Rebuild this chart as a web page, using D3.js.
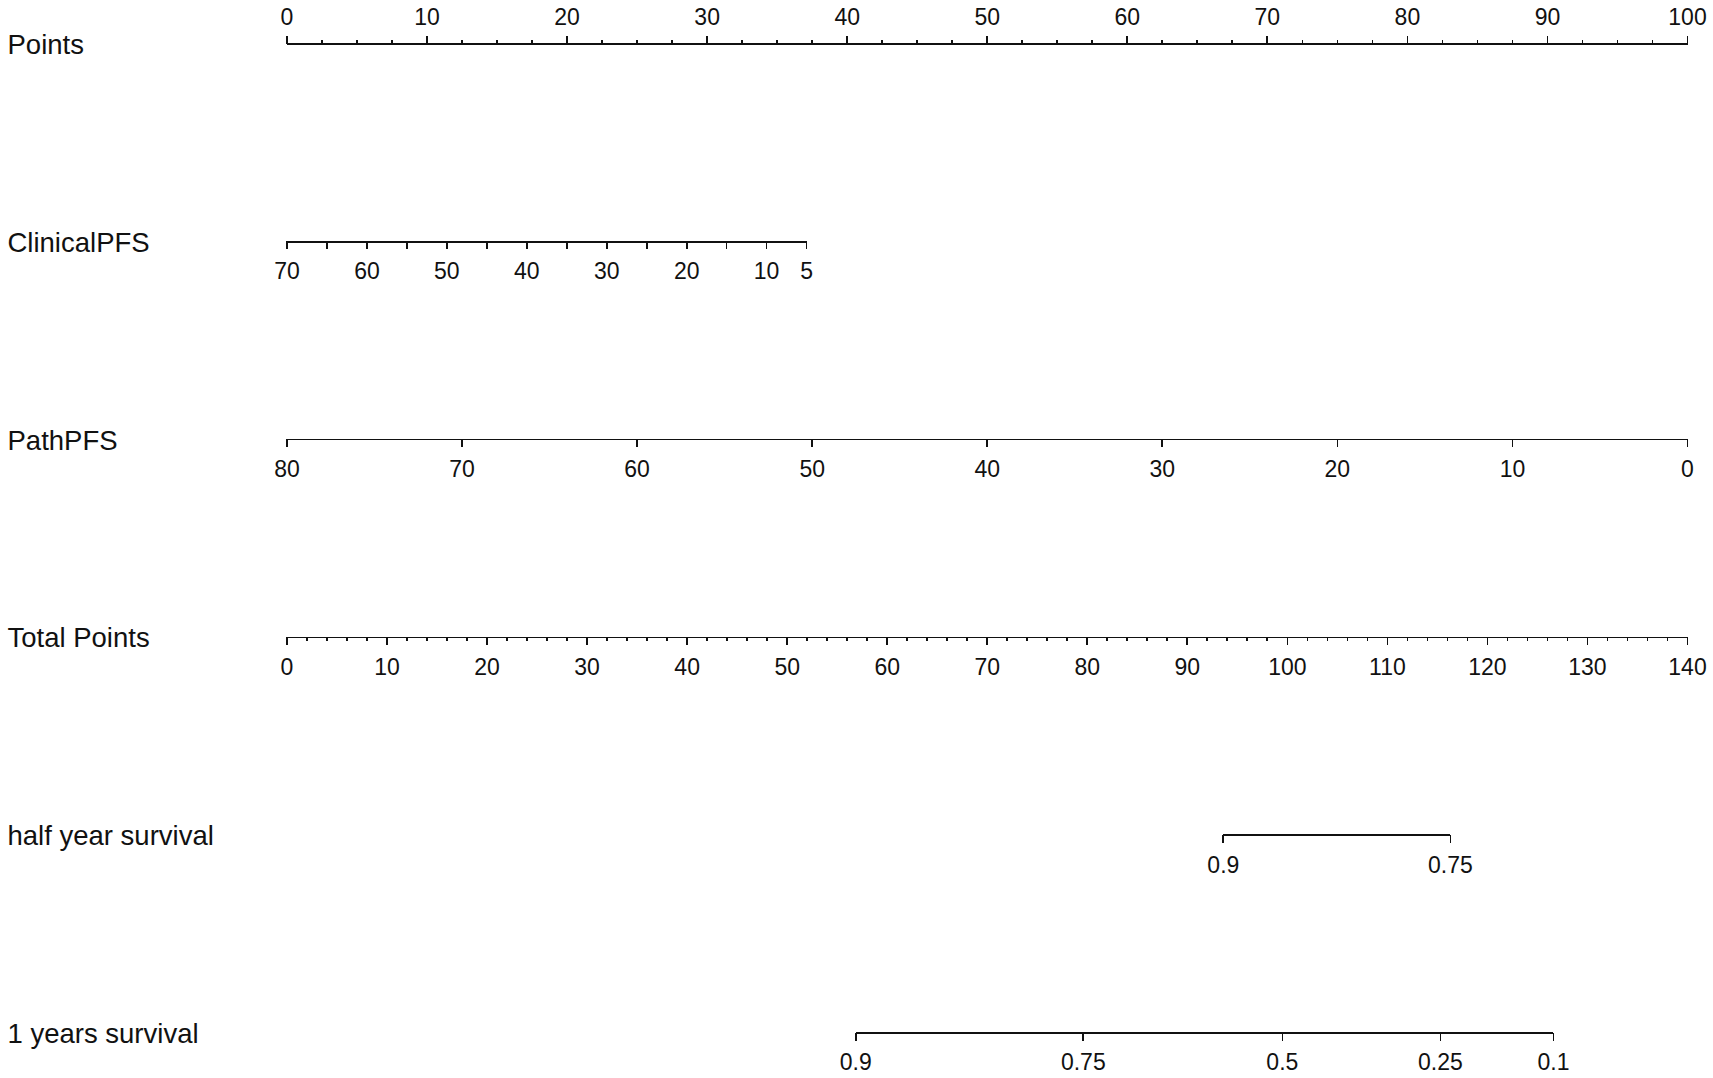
<!DOCTYPE html>
<html>
<head>
<meta charset="utf-8">
<script src="https://cdn.jsdelivr.net/npm/d3@7"></script>
<style>
  html, body { margin: 0; padding: 0; background: #fff; }
  svg { display: block; }
  .axis path, .axis line { stroke: #111; stroke-width: 1.7px; shape-rendering: crispEdges; }
  .axis text { font-family: "Liberation Sans", Arial, sans-serif; font-size: 23px; fill: #111; }
  .rowlabel { font-family: "Liberation Sans", Arial, sans-serif; font-size: 27.5px; fill: #111; }
</style>
</head>
<body>
<svg id="chart" width="1713" height="1078"></svg>
<script>
// ---- data ----
const rowNames = ["Points", "ClinicalPFS", "PathPFS", "Total Points", "half year survival", "1 years survival"];

const pointsDomain = [0, 100];
const pointsMajor = [0, 10, 20, 30, 40, 50, 60, 70, 80, 90, 100];
const pointsMinor = [2.5, 5, 7.5, 12.5, 15, 17.5, 22.5, 25, 27.5, 32.5, 35, 37.5, 42.5, 45, 47.5,
  52.5, 55, 57.5, 62.5, 65, 67.5, 72.5, 75, 77.5, 82.5, 85, 87.5, 92.5, 95, 97.5];

const clinicalValues = [70, 5];          // variable range
const clinicalPoints = [0, 37.1];        // points for those values
const clinicalTicks = [70, 65, 60, 55, 50, 45, 40, 35, 30, 25, 20, 15, 10, 5];
const clinicalLabels = [70, 60, 50, 40, 30, 20, 10, 5];

const pathValues = [80, 0];
const pathPoints = [0, 100];
const pathTicks = [80, 70, 60, 50, 40, 30, 20, 10, 0];

const totalDomain = [0, 140];
const totalMajor = [0, 10, 20, 30, 40, 50, 60, 70, 80, 90, 100, 110, 120, 130, 140];
const totalMinor = [2, 4, 6, 8, 12, 14, 16, 18, 22, 24, 26, 28, 32, 34, 36, 38, 42, 44, 46, 48,
  52, 54, 56, 58, 62, 64, 66, 68, 72, 74, 76, 78, 82, 84, 86, 88, 92, 94, 96, 98,
  102, 104, 106, 108, 112, 114, 116, 118, 122, 124, 126, 128, 132, 134, 136, 138];

const halfYearProbs = ["0.9", "0.75"];
const halfYearTotal = [93.6, 116.3];

const oneYearProbs = ["0.9", "0.75", "0.5", "0.25", "0.1"];
const oneYearTotal = [56.85, 79.6, 99.5, 115.3, 126.6];

// ---- layout ----
const svg = d3.select("#chart");
const x0 = 286.5, x1 = 1687;
const rowY = rowNames.map((d, i) => 43.5 + i * 197.8);
const majorLen = 8, minorLen = 4;

const xPoints = d3.scaleLinear().domain(pointsDomain).range([x0, x1]);
const xTotal = d3.scaleLinear().domain(totalDomain).range([x0, x1]);

// row labels
svg.selectAll("text.rowlabel").data(rowNames).join("text")
  .attr("class", "rowlabel")
  .attr("x", 7.5)
  .attr("y", (d, i) => rowY[i] + 10.5)
  .text(d => d);

function styleBottom(g) {
  g.selectAll(".tick text").attr("y", 21.5).attr("dy", "0.71em");
}

// Points (ticks up, labels above)
const gP = svg.append("g").attr("class", "axis").attr("transform", `translate(0,${rowY[0]})`);
gP.call(d3.axisTop(xPoints).tickValues(pointsMajor).tickSize(majorLen).tickSizeOuter(0).tickPadding(11).tickFormat(d3.format("d")));
gP.append("g").call(d3.axisTop(xPoints).tickValues(pointsMinor).tickSize(minorLen).tickSizeOuter(0).tickFormat(""))
  .call(g => g.select(".domain").remove());

// ClinicalPFS
const xClin = d3.scaleLinear().domain(clinicalValues).range(clinicalPoints.map(xPoints));
const gC = svg.append("g").attr("class", "axis").attr("transform", `translate(0,${rowY[1]})`);
gC.call(d3.axisBottom(xClin).tickValues(clinicalTicks).tickSize(majorLen).tickSizeOuter(0)
  .tickFormat(d => clinicalLabels.includes(d) ? d : ""));
styleBottom(gC);

// PathPFS
const xPath = d3.scaleLinear().domain(pathValues).range(pathPoints.map(xPoints));
const gPa = svg.append("g").attr("class", "axis").attr("transform", `translate(0,${rowY[2]})`);
gPa.call(d3.axisBottom(xPath).tickValues(pathTicks).tickSize(majorLen).tickSizeOuter(0).tickFormat(d3.format("d")));
styleBottom(gPa);

// Total Points
const gT = svg.append("g").attr("class", "axis").attr("transform", `translate(0,${rowY[3]})`);
gT.call(d3.axisBottom(xTotal).tickValues(totalMajor).tickSize(majorLen).tickSizeOuter(0).tickFormat(d3.format("d")));
styleBottom(gT);
gT.append("g").call(d3.axisBottom(xTotal).tickValues(totalMinor).tickSize(minorLen).tickSizeOuter(0).tickFormat(""))
  .call(g => g.select(".domain").remove());

// survival axes (positioned on total points scale)
function survAxis(probs, totals, y) {
  const pos = d3.scaleOrdinal().domain(probs).range(totals.map(xTotal));
  const g = svg.append("g").attr("class", "axis").attr("transform", `translate(0,${y})`);
  const axisScale = d => pos(d);
  axisScale.domain = () => probs;
  axisScale.range = () => [pos(probs[0]), pos(probs[probs.length - 1])];
  axisScale.copy = () => axisScale;
  g.call(d3.axisBottom(axisScale).tickSize(majorLen).tickSizeOuter(0));
  styleBottom(g);
  return g;
}
survAxis(halfYearProbs, halfYearTotal, rowY[4]);
survAxis(oneYearProbs, oneYearTotal, rowY[5]);
</script>
</body>
</html>
